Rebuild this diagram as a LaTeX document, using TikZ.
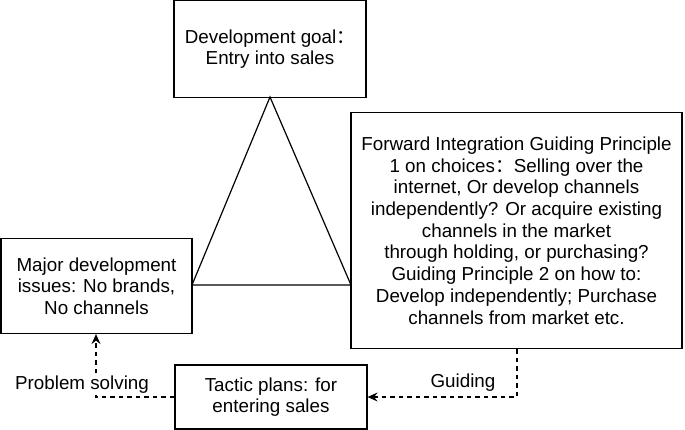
\documentclass[tikz,border=0pt]{standalone}
\usepackage{fontspec}
\setmainfont{Liberation Sans}
\newfontfamily\cjk{Noto Sans CJK SC}
\usetikzlibrary{arrows.meta}
\newcommand{\fcolon}{\smash{\cjk ：}}
\begin{document}
\begin{tikzpicture}[x=1pt,y=-1pt,
  box/.style={draw,line width=1.2pt,align=center,font=\fontsize{18.8}{21.7}\selectfont},
  lab/.style={font=\fontsize{18.8}{21.7}\selectfont},
  conn/.style={dash pattern=on 4.5pt off 4pt,line width=1.2pt,-{Stealth[length=10pt,width=9pt,inset=3.5pt]}}]
\useasboundingbox (0,0) rectangle (685,430);
\node[box,minimum width=192pt,minimum height=97pt] (goal) at (270,49) {Development goal\fcolon\\Entry into sales};
\node[box,minimum width=191pt,minimum height=95pt] (issues) at (96.5,286) {Major development\\issues: No brands,\\No channels};
\node[box,minimum width=331pt,minimum height=236pt] (fwd) at (516.5,230.5) {Forward Integration Guiding Principle\\1 on choices\fcolon Selling over the\\internet, Or develop channels\\independently? Or acquire existing\\channels in the market\\through holding, or purchasing?\\Guiding Principle 2 on how to:\\Develop independently; Purchase\\channels from market etc.};
\node[box,minimum width=192pt,minimum height=64pt] (tactic) at (271,397) {Tactic plans: for\\entering sales};
\coordinate (apex) at (270,97);
\coordinate (bl) at (192,285);
\coordinate (br) at (351,285);
\draw[line width=1.2pt,line join=miter] (apex) -- (bl) -- (br) -- cycle;
\coordinate (g1) at (517,397);
\coordinate (p1) at (96,397);
\draw[conn] (fwd.south -| g1) -- (g1) -- (tactic.east);
\draw[conn] (tactic.west) -- (p1) -- (issues.south -| p1);
\node[lab] (guidinglab) at (463,383) {Guiding};
\node[lab,fill=white,inner sep=1pt] (problab) at (82,385) {Problem solving};
\end{tikzpicture}
\end{document}
